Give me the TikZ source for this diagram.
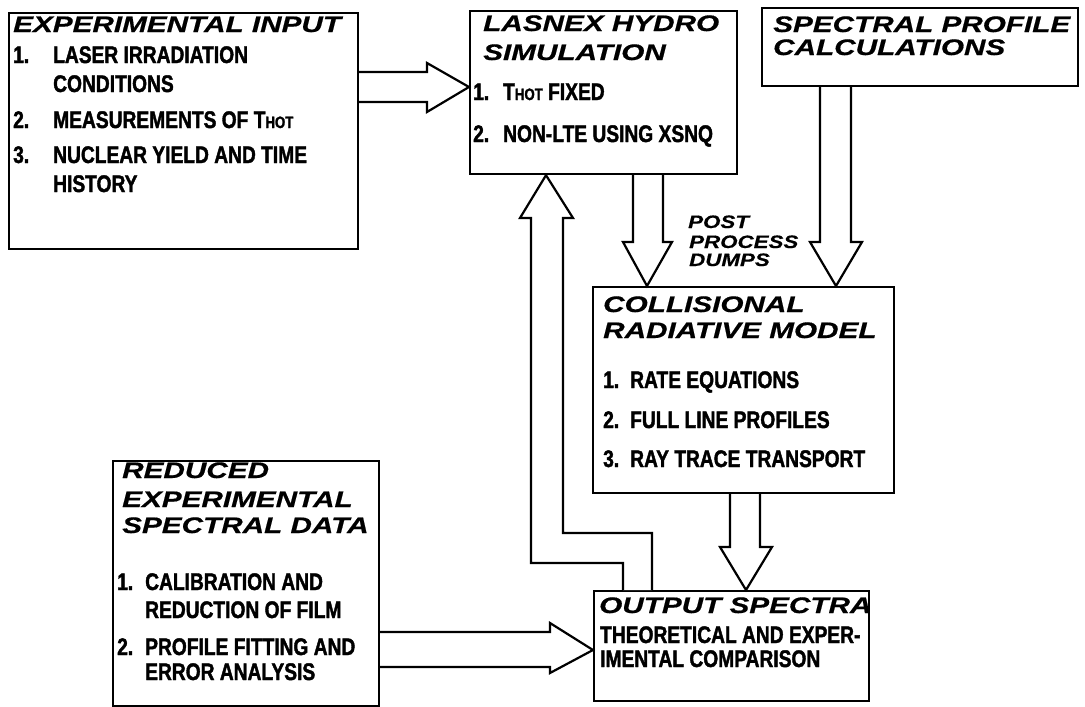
\documentclass[tikz,border=0pt]{standalone}
\usepackage{fontspec}
\newfontfamily\hfont[FakeStretch=1.32,FakeBold=0.6]{Liberation Sans}
\newfontfamily\pfont[FakeStretch=1.24,FakeBold=0.5]{Liberation Sans}
\newfontfamily\ifont[FakeStretch=0.8,FakeBold=1.6]{Liberation Sans}
\newcommand{\hotsub}{{\fontsize{16.5}{16.5}\selectfont HOT}}
\tikzset{
  box/.style={draw, line width=2.2pt, anchor=north west, inner sep=0pt, fill=white},
  head/.style={anchor=base west, inner sep=0pt, font=\hfont\bfseries\itshape\fontsize{22.5}{22.5}\selectfont},
  post/.style={anchor=base west, inner sep=0pt, font=\pfont\bfseries\itshape\fontsize{18}{18}\selectfont},
  itm/.style={anchor=base west, inner sep=0pt, font=\ifont\bfseries\fontsize{24}{24}\selectfont},
  harrow/.style={draw, line width=2.2pt, line join=miter, fill=white}
}
\begin{document}
\begin{tikzpicture}[x=1pt, y=-1pt]
\useasboundingbox (0,0) rectangle (1085,707);
\fill[white] (0,0) rectangle (1085,707);

% boxes
\node[box, minimum width=349pt, minimum height=236pt] (ei) at (8,12) {};
\node[box, minimum width=267pt, minimum height=163pt] (las) at (469,10) {};
\node[box, minimum width=316pt, minimum height=78pt] (spc) at (761,7) {};
\node[box, minimum width=301pt, minimum height=206pt] (col) at (592,286) {};
\node[box, minimum width=266pt, minimum height=245pt] (red) at (112,460) {};
\node[box, minimum width=275pt, minimum height=110pt] (out) at (593,590) {};

% Experimental input
\node[head] (eih) at (13,32) {EXPERIMENTAL INPUT};
\node[itm] (ei1n) at (13,63) {1.};
\node[itm] (ei1a) at (53,63) {LASER IRRADIATION};
\node[itm] (ei1b) at (53,92) {CONDITIONS};
\node[itm] (ei2n) at (13,128) {2.};
\node[itm] (ei2a) at (53,128) {MEASUREMENTS OF T\hotsub};
\node[itm] (ei3n) at (13,163) {3.};
\node[itm] (ei3a) at (53,163) {NUCLEAR YIELD AND TIME};
\node[itm] (ei3b) at (53,192) {HISTORY};

% LASNEX
\node[head] (lash1) at (483,31) {LASNEX HYDRO};
\node[head] (lash2) at (483,60) {SIMULATION};
\node[itm] (las1n) at (473,100) {1.};
\node[itm] (las1a) at (503,100) {T\hotsub{} FIXED};
\node[itm] (las2n) at (473,142) {2.};
\node[itm] (las2a) at (503,142) {NON-LTE USING XSNQ};

% Spectral profile
\node[head] (spch1) at (773,32) {SPECTRAL PROFILE};
\node[head] (spch2) at (773,55) {CALCULATIONS};

% Collisional
\node[head] (colh1) at (603,312) {COLLISIONAL};
\node[head] (colh2) at (603,338) {RADIATIVE MODEL};
\node[itm] (col1n) at (603,388) {1.};
\node[itm] (col1a) at (630,388) {RATE EQUATIONS};
\node[itm] (col2n) at (603,428) {2.};
\node[itm] (col2a) at (630,428) {FULL LINE PROFILES};
\node[itm] (col3n) at (603,467) {3.};
\node[itm] (col3a) at (630,467) {RAY TRACE TRANSPORT};

% Post process
\node[post] (pp1) at (688,228) {POST};
\node[post] (pp2) at (689,248) {PROCESS};
\node[post] (pp3) at (689,266) {DUMPS};

% Reduced
\node[head] (redh1) at (122,478) {REDUCED};
\node[head] (redh2) at (122,507) {EXPERIMENTAL};
\node[head] (redh3) at (122,533) {SPECTRAL DATA};
\node[itm] (red1n) at (117,590) {1.};
\node[itm] (red1a) at (145,590) {CALIBRATION AND};
\node[itm] (red1b) at (145,618) {REDUCTION OF FILM};
\node[itm] (red2n) at (117,655) {2.};
\node[itm] (red2a) at (145,655) {PROFILE FITTING AND};
\node[itm] (red2b) at (145,680) {ERROR ANALYSIS};

% Output
\node[head] (outh) at (599,613) {OUTPUT SPECTRA};
\node[itm] (out1) at (600,643) {THEORETICAL AND EXPER-};
\node[itm] (out2) at (600,667) {IMENTAL COMPARISON};

% hollow arrows
\draw[harrow] (ei.east |- 0,72) -- (427,72) -- (427,63) -- (las.west |- 0,87)
  -- (427,112) -- (427,102) -- (ei.east |- 0,102);
\draw[harrow] (las.south -| 633,0) -- (633,242) -- (623,242) -- (col.north -| 647,0)
  -- (672,242) -- (663,242) -- (las.south -| 663,0);
\draw[harrow] (spc.south -| 820,0) -- (820,242) -- (810,242) -- (col.north -| 836,0)
  -- (862,242) -- (851,242) -- (spc.south -| 851,0);
\draw[harrow] (col.south -| 730,0) -- (730,547) -- (720,547) -- (out.north -| 746,0)
  -- (772,547) -- (760,547) -- (col.south -| 760,0);
\draw[harrow] (red.east |- 0,632) -- (550,632) -- (550,623) -- (out.west |- 0,650)
  -- (550,673) -- (550,667) -- (red.east |- 0,667);
\draw[harrow] (out.north -| 623,0) -- (623,563) -- (531,563) -- (531,218) -- (520,218)
  -- (las.south -| 546,0) -- (573,218) -- (563,218) -- (563,533) -- (652,533)
  -- (out.north -| 652,0);
\end{tikzpicture}
\end{document}
